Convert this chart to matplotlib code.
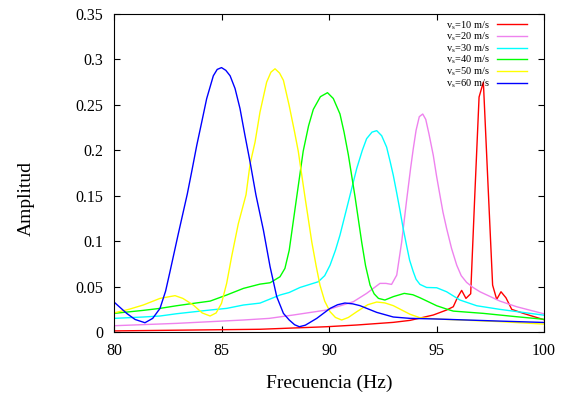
import matplotlib
matplotlib.use("Agg")
import matplotlib.pyplot as plt

plt.rcParams['font.family'] = ['Liberation Serif', 'DejaVu Serif']
plt.rcParams['mathtext.fontset'] = 'custom'
plt.rcParams['mathtext.rm'] = 'Liberation Serif'
plt.rcParams['mathtext.it'] = 'Liberation Serif:italic'

labels = ['v$_\\mathrm{s}$=10 m/s', 'v$_\\mathrm{s}$=20 m/s', 'v$_\\mathrm{s}$=30 m/s',
          'v$_\\mathrm{s}$=40 m/s', 'v$_\\mathrm{s}$=50 m/s', 'v$_\\mathrm{s}$=60 m/s']
colors = ['#ff0000', '#ee82ee', '#00ffff', '#00ff00', '#ffff00', '#0000ff']

f10 = [80.0, 83.0, 86.79, 89.89, 91.29, 92.99, 93.77, 94.85, 95.47, 95.78, 95.97, 96.17,
       96.37, 96.59, 96.78, 96.98, 97.18, 97.4, 97.61, 97.8, 98.0, 98.23, 98.5, 99.04, 100.0]
a10 = [0.0012, 0.002, 0.003, 0.0058, 0.0077, 0.0106, 0.0128, 0.0187, 0.0242, 0.0278, 0.0377, 0.0458,
       0.037, 0.0421, 0.150, 0.2586, 0.275, 0.160, 0.0516, 0.0359, 0.0443, 0.0377, 0.0249, 0.0205, 0.0135]

f20 = [80.0, 82.91, 86.02, 87.22, 88.34, 89.89, 91.13, 91.75, 92.37, 92.65, 92.91, 93.15, 93.38,
       93.61, 93.8, 93.92, 94.05, 94.2, 94.36, 94.5, 94.65, 94.85, 95.0, 95.16, 95.3, 95.47, 95.7,
       95.94, 96.15, 96.4, 96.7, 97.02, 97.5, 97.95, 98.73, 100.0]
a20 = [0.0069, 0.0095, 0.0132, 0.015, 0.0187, 0.0242, 0.0333, 0.0425, 0.0535, 0.0535, 0.0524, 0.0626, 0.099,
       0.145, 0.181, 0.2018, 0.222, 0.237, 0.2399, 0.234, 0.218, 0.1945, 0.172, 0.1505, 0.132, 0.114, 0.092,
       0.0736, 0.062, 0.0546, 0.049, 0.0443, 0.039, 0.034, 0.0278, 0.0200]

f30 = [80.0, 81.36, 82.14, 82.91, 84.47, 85.24, 86.02, 86.79, 87.72, 88.15, 88.65, 89.5, 89.8, 90.05,
       90.3, 90.51, 90.9, 91.29, 91.55, 91.75, 92.0, 92.22, 92.45, 92.68, 92.85, 92.99, 93.15, 93.3,
       93.45, 93.61, 93.75, 93.92, 94.05, 94.23, 94.54, 95.01, 95.47, 96.09, 96.87, 97.95, 100.0]
a30 = [0.015, 0.0165, 0.0176, 0.0201, 0.0242, 0.026, 0.0297, 0.0318, 0.0407, 0.0435, 0.049, 0.0553, 0.062, 0.0736,
       0.09, 0.1066, 0.1432, 0.18, 0.200, 0.2128, 0.220, 0.2216, 0.216, 0.2035, 0.187, 0.1725, 0.153, 0.134,
       0.114, 0.095, 0.079, 0.0663, 0.058, 0.0524, 0.049, 0.0487, 0.0443, 0.0352, 0.0289, 0.0249, 0.0185]

f40 = [80.0, 81.36, 82.14, 82.91, 83.69, 84.47, 85.24, 86.02, 86.79, 87.26, 87.72, 87.95, 88.15,
       88.5, 88.8, 89.05, 89.27, 89.6, 89.93, 90.2, 90.51, 90.7, 90.9, 91.21, 91.52, 91.7, 91.91,
       92.1, 92.3, 92.6, 93.0, 93.5, 93.9, 94.23, 95.01, 95.5, 95.78, 97.18, 98.73, 100.0]
a40 = [0.0205, 0.0238, 0.026, 0.0289, 0.0315, 0.034, 0.0407, 0.048, 0.0527, 0.0542, 0.0608, 0.07, 0.09,
       0.149, 0.199, 0.227, 0.245, 0.259, 0.2634, 0.257, 0.240, 0.22, 0.195, 0.149, 0.099, 0.073, 0.0516,
       0.042, 0.037, 0.0352, 0.039, 0.0425, 0.041, 0.0377, 0.0289, 0.025, 0.023, 0.0205, 0.0168, 0.014]

f50 = [80.0, 80.7, 81.36, 82.14, 82.84, 83.2, 83.69, 84.1, 84.47, 84.75, 85.0, 85.24, 85.47, 85.78,
       86.14, 86.33, 86.56, 86.79, 87.1, 87.3, 87.49, 87.7, 87.88, 88.15, 88.4, 88.57, 88.88, 89.2,
       89.4, 89.58, 89.8, 90.05, 90.3, 90.59, 90.9, 91.29, 91.8, 92.22, 92.6, 92.99, 93.4, 93.77,
       94.23, 95.0, 97.95, 100.0]
a50 = [0.021, 0.025, 0.0297, 0.037, 0.0400, 0.037, 0.0297, 0.021, 0.0176, 0.021, 0.0315, 0.0535, 0.0828, 0.119,
       0.151, 0.185, 0.209, 0.242, 0.275, 0.286, 0.2897, 0.285, 0.277, 0.249, 0.22, 0.199, 0.149, 0.099,
       0.073, 0.0516, 0.034, 0.0223, 0.016, 0.0132, 0.016, 0.0223, 0.030, 0.033, 0.032, 0.029, 0.024, 0.0195,
       0.0157, 0.0143, 0.0114, 0.0087]

f60 = [80.0, 80.59, 80.98, 81.44, 81.8, 82.14, 82.4, 82.6, 82.99, 83.2, 83.41, 83.61, 83.85, 84.08,
       84.31, 84.62, 84.8, 85.0, 85.2, 85.4, 85.63, 85.86, 86.09, 86.33, 86.6, 86.95, 87.26, 87.57,
       87.88, 88.15, 88.4, 88.62, 88.9, 89.43, 90.05, 90.4, 90.74, 91.1, 91.44, 92.22, 92.99, 93.77,
       95.0, 97.95, 100.0]
a60 = [0.033, 0.0205, 0.0138, 0.0102, 0.015, 0.026, 0.045, 0.066, 0.108, 0.13, 0.152, 0.176, 0.2055, 0.231,
       0.2568, 0.282, 0.289, 0.291, 0.288, 0.282, 0.268, 0.246, 0.2165, 0.187, 0.151, 0.112, 0.0718, 0.0388,
       0.0205, 0.0132, 0.008, 0.0058, 0.0075, 0.015, 0.026, 0.030, 0.0319, 0.031, 0.029, 0.0216, 0.0165, 0.015,
       0.0143, 0.012, 0.0105]

series = [(f10, a10), (f20, a20), (f30, a30), (f40, a40), (f50, a50), (f60, a60)]

fig = plt.figure(figsize=(5.67, 3.96), dpi=100)
ax = fig.add_axes([114/567, (396-332)/396, 430/567, 318/396])

for (f, a), c, lab in zip(series, colors, labels):
    ax.plot(f, a, color=c, lw=1.0, label=lab)

ax.set_xlim(80, 100)
ax.set_ylim(0, 0.35)
ax.set_xticks([80, 85, 90, 95, 100])
ax.set_yticks([0, 0.05, 0.1, 0.15, 0.2, 0.25, 0.3, 0.35])
ax.set_yticklabels(['0', '0.05', '0.1', '0.15', '0.2', '0.25', '0.3', '0.35'])
ax.tick_params(direction='in', length=4.5, width=0.8, top=True, right=True,
               labelsize=11.5, pad=8)
for s in ax.spines.values():
    s.set_linewidth(0.8)

fig.text(329/567, (396-383)/396, 'Frecuencia (Hz)', ha='center', va='center', fontsize=14)
fig.text(26/567, (396-198)/396, 'Amplitud', ha='center', va='center', rotation=90, fontsize=14)

leg = ax.legend(loc='upper right', bbox_to_anchor=((527-114)/430, (332-19)/318),
                frameon=False, fontsize=7.5, markerfirst=False, handlelength=2.9,
                handletextpad=0.7, labelspacing=-0.08, borderaxespad=0, borderpad=0)

fig.savefig('out.png', dpi=100)
